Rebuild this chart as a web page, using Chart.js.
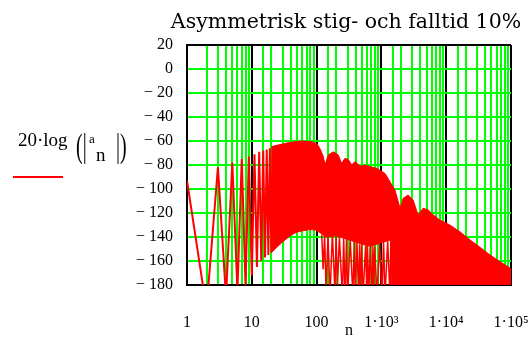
<!DOCTYPE html>
<html>
<head>
<meta charset="utf-8">
<script src="https://cdn.jsdelivr.net/npm/chart.js@4"></script>
<style>
  html, body { margin: 0; padding: 0; background: #fff; }
  #wrap { position: relative; width: 530px; height: 340px; }
  #title { position: absolute; left: 170px; top: 7px; width: 352px; text-align: center; white-space: nowrap;
           font-family: "DejaVu Serif", serif; font-size: 20.5px; line-height: 28px; color: #000; }
  #legend { position: absolute; left: 0; top: 0; font-family: "Liberation Serif", serif; color: #000; }
  #legend span { position: absolute; white-space: nowrap; line-height: 1.15; }
  #legend .big { font-size: 20px; transform: scaleY(1.7); }
  #swatch { position: absolute; left: 13px; top: 176px; width: 50px; height: 2px; background: #ff0000; }
</style>
</head>
<body>
<div id="wrap">
  <canvas id="myChart" width="530" height="340"></canvas>
  <div id="title">Asymmetrisk stig- och falltid 10%</div>
  <div id="legend">
    <span style="left:18px; top:129px; font-size:19px;">20·log</span>
    <span class="big" style="left:76px; top:134px;">(|</span>
    <span style="left:89px; top:132px; font-size:13px;">a</span>
    <span style="left:96px; top:144px; font-size:19px;">n</span>
    <span class="big" style="left:116px; top:134px;">|)</span>
    <div id="swatch"></div>
  </div>
</div>
<script>
// harmonics n = 1..22, drawn one by one
var lowN = [1, 2, 3, 4, 5, 6, 7, 8, 9, 10, 11, 12, 13, 14, 15, 16, 17, 18, 19, 20, 21, 22];
var lowDb = [-93, -200, -82, -190, -78, -185, -75, -180, -73, -172, -71, -165, -69, -160, -68, -157, -67, -155, -66, -153, -65.5, -150];

// upper edge of the dense part
var topN = [20, 25.6, 30, 36.6, 46.4, 60, 84, 100, 112, 127, 135, 151, 181, 216, 243, 274, 309, 349, 392, 467, 560, 669, 850, 1136, 1357, 1620, 1940, 2160, 2580, 3080, 3680, 4400, 5300, 6330, 8000, 11400, 16300, 23400, 33300, 47600, 68000, 100000];
var topDb = [-64.7, -63.3, -62.5, -61.4, -60.6, -60, -60.6, -62, -66, -73, -80, -71.7, -69, -71.7, -78.6, -74.4, -75.5, -80, -77, -81, -80, -81.4, -82.8, -87, -94, -101, -116, -107.8, -105, -109, -121.7, -116, -117.5, -121.7, -125.8, -130, -135.6, -142.5, -148.6, -155, -160.6, -166.5];

// lower edge of the dense part
var botN = [20, 25, 30, 37, 45, 52, 74, 94, 110, 140, 200, 300, 500, 700, 950, 1300, 1400, 1420, 100000];
var botDb = [-153, -148, -144, -140, -137, -135.6, -134, -134, -136, -140, -139, -142, -146, -148, -145, -143, -143, -200, -200];

// single lines reaching down from the lower edge
var spikeN = [120, 126, 133, 140, 150, 161, 175, 192, 200, 210, 225, 250, 262, 274, 290, 300, 330, 364, 380, 395, 420, 445, 460, 475, 495, 520, 570, 595, 610, 640, 670, 716, 740, 765, 790, 855, 940, 1021, 1080, 1136, 1250, 1357, 1400];
var spikeDb = [-138, -167, -139, -185, -138, -190, -137, -185, -139, -180, -140, -190, -140, -190, -141, -190, -142, -190, -143, -185, -145, -190, -146, -190, -146, -190, -147, -188, -147, -190, -148, -190, -148, -185, -148, -190, -145, -190, -143, -190, -143, -190, -143];

var xTickValues = [1, 10, 100, 1000, 10000, 100000];
var xTickLabels = ['1', '10', '100', '1·10³', '1·10⁴', '1·10⁵'];
var yTickValues = [20, 0, -20, -40, -60, -80, -100, -120, -140, -160, -180];
var yTickLabels = ['20', '0', '− 20', '− 40', '− 60', '− 80', '− 100', '− 120', '− 140', '− 160', '− 180'];

function pts(xs, ys) {
    return xs.map(function (x, i) { return { x: x, y: ys[i] }; });
}
function isDecade(v) {
    return xTickValues.some(function (d) { return Math.abs(v - d) < d * 1e-6; });
}

var red = '#ff0000';
var green = '#00ff00';
var tickFont = { family: 'Liberation Serif', size: 16 };

var ctx = document.getElementById('myChart').getContext('2d');
var myChart = new Chart(ctx, {
    type: 'line',
    data: {
        datasets: [{
            label: 'top',
            data: pts(topN, topDb),
            borderColor: red,
            backgroundColor: red,
            borderWidth: 1,
            fill: '+1'
        }, {
            label: 'bottom',
            data: pts(botN, botDb),
            borderColor: red,
            borderWidth: 1,
            fill: false
        }, {
            label: 'spikes',
            data: pts(spikeN, spikeDb),
            borderColor: red,
            borderWidth: 1.5,
            fill: false
        }, {
            label: '20·log(|a_n|)',
            data: pts(lowN, lowDb),
            borderColor: red,
            borderWidth: 2,
            fill: false
        }]
    },
    options: {
        responsive: false,
        animation: false,
        elements: { point: { radius: 0 }, line: { tension: 0 } },
        layout: { padding: { left: 0, right: 19, top: 45, bottom: 0 } },
        plugins: {
            legend: { display: false },
            tooltip: { enabled: false },
            title: { display: false }
        },
        scales: {
            x: {
                type: 'logarithmic',
                min: 1,
                max: 100000,
                afterFit: function (s) { s.height = 55; },
                border: { color: '#000', width: 2 },
                grid: {
                    color: function (c) { return isDecade(c.tick.value) ? '#000' : green; },
                    lineWidth: 2,
                    drawTicks: true,
                    tickLength: 28,
                    tickColor: 'rgba(0,0,0,0)'
                },
                ticks: {
                    autoSkip: false,
                    maxRotation: 0,
                    padding: 0,
                    color: '#000',
                    font: tickFont,
                    callback: function (v) {
                        for (var i = 0; i < xTickValues.length; i++) {
                            if (Math.abs(v - xTickValues[i]) < xTickValues[i] * 1e-6) return xTickLabels[i];
                        }
                        return '';
                    }
                },
                title: { display: true, text: 'n', color: '#000', font: tickFont, padding: 0 }
            },
            y: {
                min: -180,
                max: 20,
                afterFit: function (s) { s.width = 187; },
                border: { color: '#000', width: 2 },
                grid: {
                    color: function (c) { return (c.tick.value === 20 || c.tick.value === -180) ? '#000' : green; },
                    lineWidth: 2,
                    drawTicks: false
                },
                ticks: {
                    stepSize: 20,
                    padding: 14,
                    color: '#000',
                    font: tickFont,
                    callback: function (v) {
                        var i = yTickValues.indexOf(v);
                        return i >= 0 ? yTickLabels[i] : '';
                    }
                }
            }
        }
    }
});
</script>
</body>
</html>
